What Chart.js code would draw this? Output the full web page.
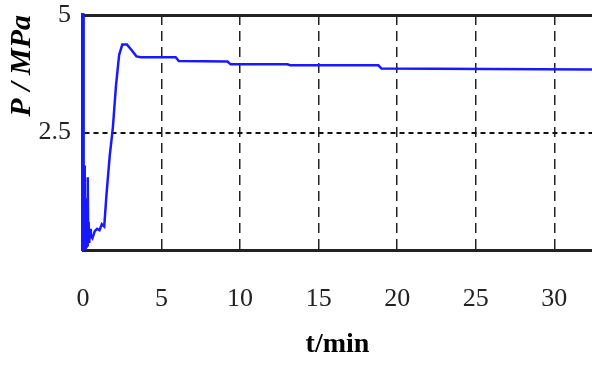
<!DOCTYPE html>
<html>
<head>
<meta charset="utf-8">
<script src="https://cdn.jsdelivr.net/npm/chart.js@4/dist/chart.umd.min.js"></script>
<style>
  html, body { margin: 0; padding: 0; background: #fff; }
  #wrap { width: 592px; height: 365px; }
</style>
</head>
<body>
<div id="wrap"><canvas id="pChart"></canvas></div>
<script>
// time (min) and pressure (MPa)
const times = [0, 0.01, 0.02, 0.04, 0.06, 0.08, 0.1, 0.12, 0.14, 0.16, 0.18, 0.2, 0.22, 0.25, 0.28,
  0.3, 0.33, 0.36, 0.4, 0.45, 0.5, 0.6, 0.75, 0.9, 1.05, 1.2, 1.35, 1.5, 1.7, 1.9, 2.1, 2.3, 2.5, 2.8,
  3.1, 3.4, 3.7, 5.9, 6.1, 9.2, 9.4, 13.0, 13.2, 18.8, 19.0, 32.4];
const pressures = [5, 2.4, 0.0, 2.1, 0.05, 1.8, 0.1, 1.3, 0.0, 1.1, 0.15, 0.9, 0.05, 0.8, 0.1,
  1.55, 0.35, 0.6, 0.15, 0.45, 0.3, 0.25, 0.4, 0.45, 0.42, 0.55, 0.5, 1.2, 2.0, 2.6, 3.5, 4.15, 4.37, 4.37,
  4.25, 4.12, 4.1, 4.1, 4.02, 4.01, 3.95, 3.95, 3.93, 3.93, 3.86, 3.84];
const xTicks = [0, 5, 10, 15, 20, 25, 30];
const yTicks = [2.5, 5];

const points = times.map((t, i) => ({ x: t, y: pressures[i] }));
const serif = '"Liberation Serif", "Times New Roman", serif';

const ctx = document.getElementById('pChart').getContext('2d');

new Chart(ctx, {
  type: 'line',
  data: {
    datasets: [{
      data: points,
      borderColor: 'rgb(25,25,255)',
      borderWidth: 2.5,
      pointRadius: 0,
      tension: 0,
      fill: false
    }]
  },
  options: {
    responsive: true,
    maintainAspectRatio: false,
    animation: false,
    layout: { padding: 0 },
    plugins: { legend: { display: false }, tooltip: { enabled: false } },
    scales: {
      x: {
        type: 'linear',
        min: 0,
        max: 32.4,
        afterBuildTicks: (s) => { s.ticks = xTicks.map(v => ({ value: v })); },
        afterFit: (s) => { s.height = 115; s.paddingLeft = 0; s.paddingRight = 0; },
        ticks: { padding: 34, color: '#222', font: { family: serif, size: 26 } },
        grid: {
          drawTicks: false,
          color: (c) => (c.tick && c.tick.value === 0 ? 'rgba(0,0,0,0)' : '#222'),
          lineWidth: 1.5
        },
        border: { display: true, color: '#222', width: 3, dash: [10, 6] },
        title: {
          display: true,
          text: 't/min',
          color: '#000',
          padding: { top: 0, bottom: 3 },
          font: { family: serif, size: 28, weight: 'bold' }
        }
      },
      xTop: {
        type: 'linear',
        position: 'top',
        min: 0,
        max: 32.4,
        afterFit: (s) => { s.height = 15; s.paddingLeft = 0; s.paddingRight = 0; },
        ticks: { display: false },
        grid: { display: false, drawTicks: false },
        border: { display: true, color: '#222', width: 3 }
      },
      y: {
        min: 0,
        max: 5,
        afterBuildTicks: (s) => { s.ticks = yTicks.map(v => ({ value: v })); },
        afterFit: (s) => { s.width = 83; s.paddingTop = 0; s.paddingBottom = 0; },
        ticks: { padding: 12, color: '#222', font: { family: serif, size: 26 } },
        grid: {
          drawTicks: false,
          color: (c) => (c.tick && c.tick.value === 5 ? 'rgba(0,0,0,0)' : '#111'),
          lineWidth: 2
        },
        border: { display: true, color: 'rgb(25,25,255)', width: 3.5, dash: [5, 4] },
        title: {
          display: true,
          text: 'P / MPa',
          align: 'end',
          color: '#000',
          padding: { top: 4, bottom: 0 },
          font: { family: serif, size: 30, weight: 'bold', style: 'italic' }
        }
      }
    }
  }
});
</script>
</body>
</html>
